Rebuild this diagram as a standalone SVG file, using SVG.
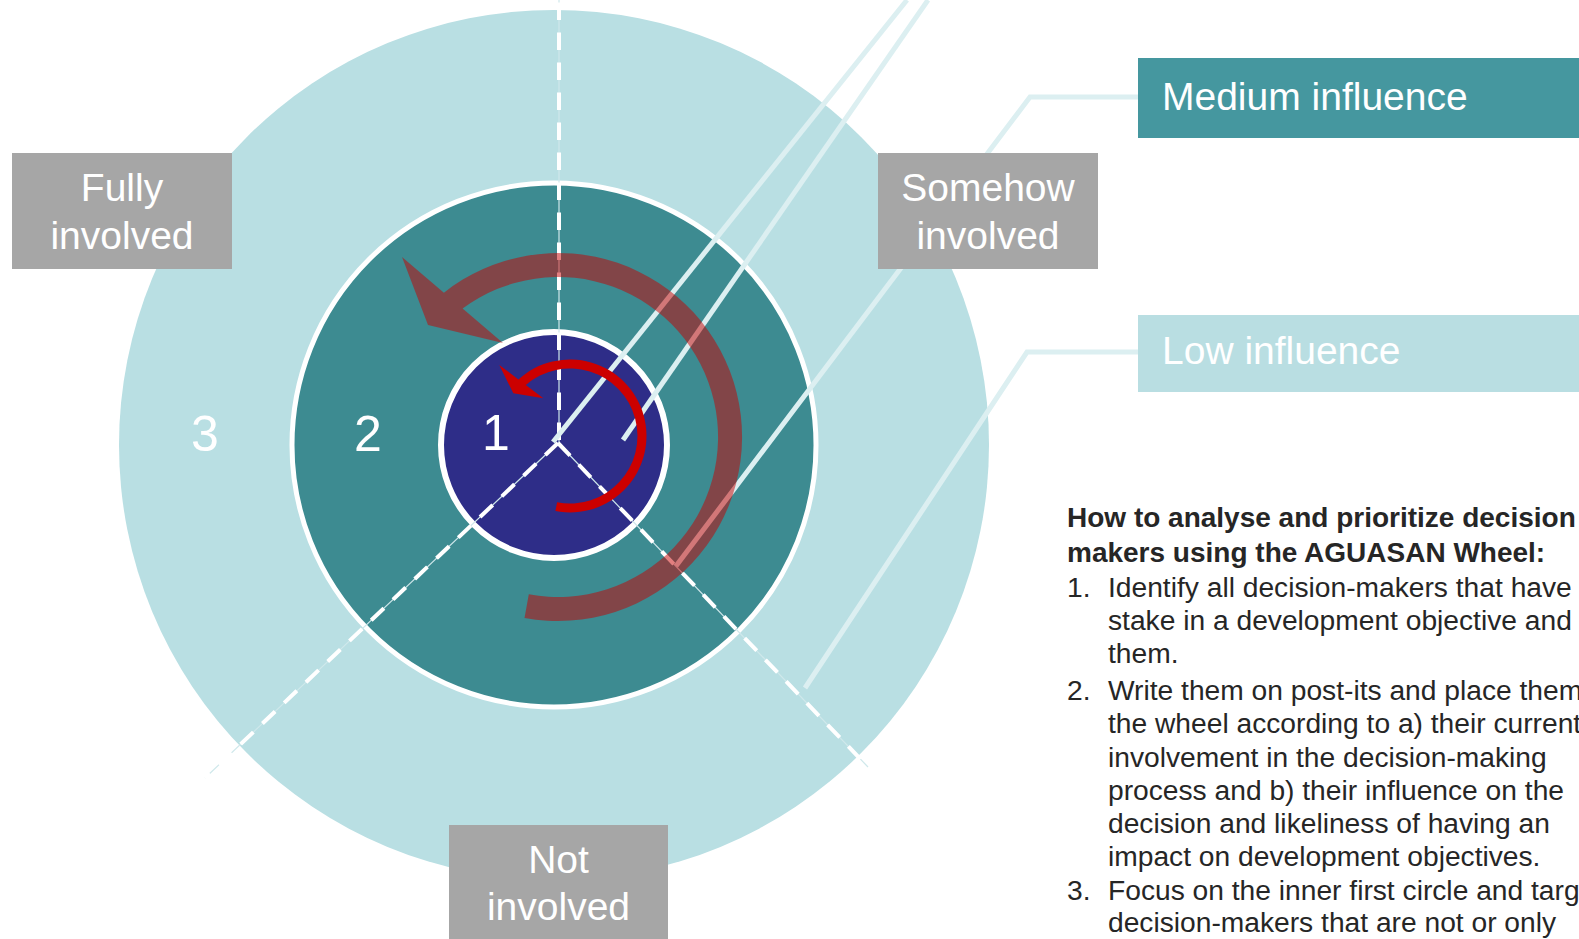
<svg xmlns="http://www.w3.org/2000/svg" width="1579" height="939" viewBox="0 0 1579 939">
<defs>
<style>
.lbl{font-family:"Liberation Sans",Arial,sans-serif;fill:#ffffff;font-size:39px;text-anchor:middle}
.num{font-family:"Liberation Sans",Arial,sans-serif;fill:#ffffff;font-size:50px;text-anchor:middle}
.inf{font-family:"Liberation Sans",Arial,sans-serif;fill:#ffffff;font-size:39px}
.body{font-family:"Liberation Sans",Arial,sans-serif;fill:#262626;font-size:28.2px}
.bold{font-weight:bold;font-size:28px}
.gbox{fill:#a6a6a6}
.dash{stroke:#ffffff;stroke-width:4;stroke-dasharray:17.5 12.5;fill:none}
.thin{stroke:#cfe8eb;stroke-width:1.2;fill:none}
.pale{stroke:#dceff1;fill:none;stroke-width:5}
</style>
</defs>
<rect width="1579" height="939" fill="#ffffff"/>
<g id="wheel">
<circle cx="554" cy="445" r="435" fill="#b9dfe3"/>
<circle cx="554" cy="445" r="262" fill="#3d8b91" stroke="#ffffff" stroke-width="5"/>
<circle cx="554" cy="445" r="113" fill="#2e2d88" stroke="#ffffff" stroke-width="6"/>
</g>
<g id="connectors">
<line class="thin" x1="559" y1="443" x2="559" y2="-1"/>
<line class="thin" x1="558" y1="443" x2="205" y2="778"/>
<line class="thin" x1="558" y1="443" x2="868" y2="767"/>
<line class="dash" x1="559" y1="443" x2="559" y2="-1" stroke-dashoffset="-3"/>
<line class="dash" x1="558" y1="443" x2="205" y2="778"/>
<line class="dash" x1="558" y1="443" x2="868" y2="767"/>
<line class="pale" x1="553" y1="442" x2="907" y2="0"/>
<line class="pale" x1="623" y1="440" x2="928" y2="0" stroke="#b7dee2" stroke-width="1.5"/>
<polyline class="pale" points="1138,97 1030,97 676,566"/>
<polyline class="pale" points="1138,352 1027,352 805,688"/>
</g>
<g id="big-arrow">
<path d="M 524.5,617.9 A 184 184 0 1 0 443.9,292.7 L 402,257 L 428,325 L 503,343 L 462.6,308.6 A 160 160 0 1 1 528.8,594.3 Z" fill="#c80000" fill-opacity="0.5"/>
</g>
<g id="small-arrow">
<path d="M 555.4,511.1 A 76.5 76.5 0 1 0 518.4,379.5 L 499.3,365 L 513.3,393.3 L 543.3,398.3 L 525.8,385 A 67.5 67.5 0 1 1 557.1,502.3 Z" fill="#cc0000"/>
</g>
<g id="ring-numbers">
<text class="num" x="205" y="451">3</text>
<text class="num" x="368" y="451">2</text>
<text class="num" x="496" y="450">1</text>
</g>
<g id="fully-involved">
<rect class="gbox" x="12" y="153" width="220" height="116"/>
<text class="lbl" x="122" y="201">Fully</text>
<text class="lbl" x="122" y="249">involved</text>
</g>
<g id="somehow-involved">
<rect class="gbox" x="878" y="153" width="220" height="116"/>
<text class="lbl" x="988" y="201">Somehow</text>
<text class="lbl" x="988" y="249">involved</text>
</g>
<g id="not-involved">
<rect class="gbox" x="449" y="825" width="219" height="120"/>
<text class="lbl" x="558.5" y="873">Not</text>
<text class="lbl" x="558.5" y="920">involved</text>
</g>
<g id="medium-influence">
<rect x="1138" y="58" width="445" height="80" fill="#45979f"/>
<text class="inf" x="1162" y="110">Medium influence</text>
</g>
<g id="low-influence">
<rect x="1138" y="315" width="445" height="77" fill="#b9dee2"/>
<text class="inf" x="1162" y="364">Low influence</text>
</g>
<g id="instructions">
<text class="body bold" x="1067" y="527">How to analyse and prioritize decision</text>
<text class="body bold" x="1067" y="562">makers using the AGUASAN Wheel:</text>
<text class="body" x="1067" y="597">1.</text>
<text class="body" x="1108" y="597">Identify all decision-makers that have a</text>
<text class="body" x="1108" y="630">stake in a development objective and l</text>
<text class="body" x="1108" y="663">them.</text>
<text class="body" x="1067" y="700">2.</text>
<text class="body" x="1108" y="700">Write them on post-its and place them</text>
<text class="body" x="1108" y="733">the wheel according to a) their current</text>
<text class="body" x="1108" y="767">involvement in the decision-making</text>
<text class="body" x="1108" y="800">process and b) their influence on the</text>
<text class="body" x="1108" y="833">decision and likeliness of having an</text>
<text class="body" x="1108" y="866">impact on development objectives.</text>
<text class="body" x="1067" y="900">3.</text>
<text class="body" x="1108" y="900">Focus on the inner first circle and targ</text>
<text class="body" x="1108" y="932">decision-makers that are not or only</text>
</g>
</svg>
